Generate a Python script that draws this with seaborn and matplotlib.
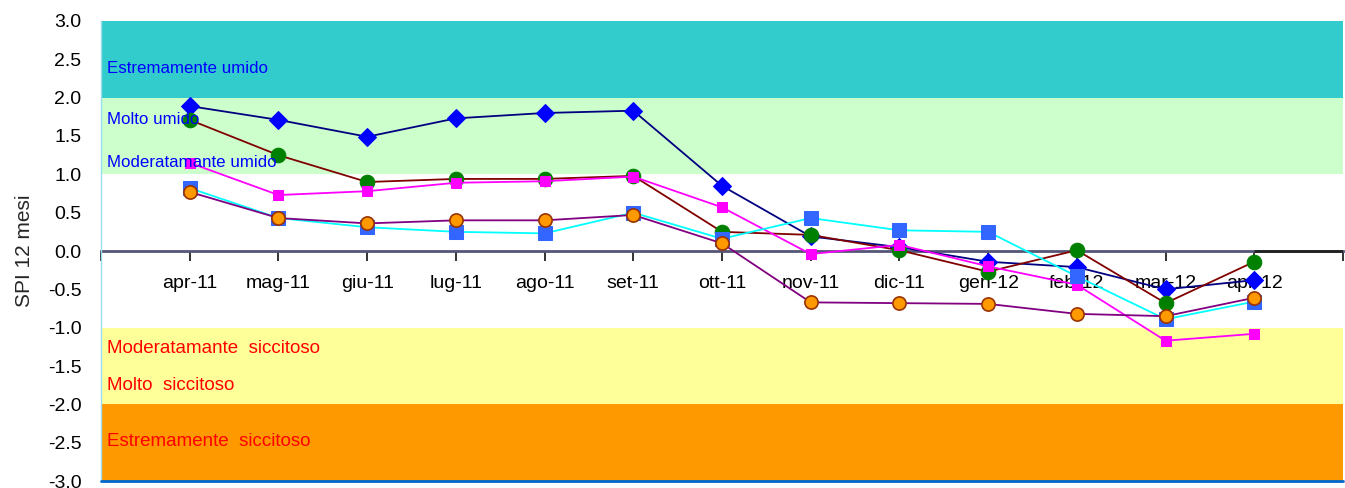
import matplotlib
matplotlib.use("Agg")
import matplotlib.pyplot as plt
import seaborn as sns
import pandas as pd

months = ['apr-11', 'mag-11', 'giu-11', 'lug-11', 'ago-11', 'set-11', 'ott-11',
          'nov-11', 'dic-11', 'gen-12', 'feb-12', 'mar-12', 'apr-12']

# SPI 12 mesi, one list per station
s_diamond = [1.89, 1.71, 1.49, 1.73, 1.80, 1.83, 0.85, 0.19, 0.05, -0.14, -0.21, -0.50, -0.38]
s_green = [1.71, 1.25, 0.90, 0.94, 0.94, 0.98, 0.25, 0.21, 0.01, -0.27, 0.01, -0.68, -0.14]
s_magenta = [1.15, 0.73, 0.78, 0.89, 0.91, 0.97, 0.57, -0.04, 0.08, -0.20, -0.44, -1.17, -1.08]
s_square = [0.82, 0.43, 0.31, 0.25, 0.23, 0.50, 0.16, 0.43, 0.27, 0.25, -0.33, -0.89, -0.66]
s_orange = [0.77, 0.43, 0.36, 0.40, 0.40, 0.47, 0.10, -0.67, -0.68, -0.69, -0.82, -0.85, -0.61]

bands = [(2, 3, '#33CCCC'), (1, 2, '#CCFFCC'), (-2, -1, '#FFFF99'), (-3, -2, '#FF9900')]
band_labels = [(2.38, 'Estremamente umido', '#0000FF'),
               (1.72, 'Molto umido', '#0000FF'),
               (1.16, 'Moderatamante umido', '#0000FF'),
               (-1.27, 'Moderatamante  siccitoso', '#FF0000'),
               (-1.75, 'Molto  siccitoso', '#FF0000'),
               (-2.48, 'Estremamente  siccitoso', '#FF0000')]

sns.set_style("white")
plt.rcParams['font.family'] = ['Liberation Sans', 'DejaVu Sans']

fig = plt.figure(figsize=(13.45, 4.88), dpi=100)
ax = fig.add_axes([0.0751, 0.0143, 0.9234, 0.9427])

for lo, hi, c in bands:
    ax.axhspan(lo, hi, color=c, lw=0, zorder=0)

df = pd.DataFrame({'mese': months, 'diamond': s_diamond, 'green': s_green,
                   'magenta': s_magenta, 'square': s_square, 'orange': s_orange})

styles = [
    ('diamond', dict(color='#000080', marker='D', markersize=9, markerfacecolor='#0000FF', markeredgecolor='#0000FF')),
    ('green', dict(color='#800000', marker='o', markersize=10.5, markerfacecolor='#008000', markeredgecolor='#008000')),
    ('magenta', dict(color='#FF00FF', marker='s', markersize=6.5, markerfacecolor='#FF00FF', markeredgecolor='#FF00FF')),
    ('square', dict(color='#00FFFF', marker='s', markersize=10.5, markerfacecolor='#3366FF', markeredgecolor='#3366FF')),
    ('orange', dict(color='#800080', marker='o', markersize=9.5, markerfacecolor='#FF9900', markeredgecolor='#993300', markeredgewidth=1.2)),
]
for col, kw in styles:
    sns.lineplot(data=df, x='mese', y=col, ax=ax, linewidth=1.3, zorder=3, **kw)

for y, txt, c in band_labels:
    ax.text(-0.93, y, txt, color=c, fontsize=13.5 if c == '#FF0000' else 12.2,
            va='center', ha='left', zorder=5)

ax.set_xlim(-1, 13)
ax.set_ylim(-3, 3)
ax.set_xticks(range(-1, 14))
ax.set_xticklabels([''] + months + [''])
ax.set_yticks([x / 2 for x in range(-6, 7)])
ax.set_yticklabels([f'{x / 2:.1f}' for x in range(-6, 7)])
ax.tick_params(axis='x', direction='out', length=7, width=1.3, color='#222222', pad=10,
               bottom=True, labelsize=14, labelcolor='black')
ax.tick_params(axis='y', length=0, pad=14, labelsize=14, labelcolor='black')

ax.spines['bottom'].set_position(('data', 0))
ax.spines['bottom'].set_color('#555577')
ax.spines['bottom'].set_linewidth(2)
ax.spines['bottom'].set_zorder(2)
ax.spines['left'].set_color('#99DDEE')
ax.spines['left'].set_linewidth(1)
ax.spines['top'].set_visible(False)
ax.spines['right'].set_visible(False)
ax.hlines(0, len(months) - 1, len(months), color='#222222', lw=2, zorder=2.5)
ax.axhline(-3, color='#0066CC', lw=2, zorder=4, clip_on=False)

ax.set_xlabel('')
ax.set_ylabel('SPI 12 mesi', fontsize=15, labelpad=10)

fig.savefig('out.png', dpi=100)
